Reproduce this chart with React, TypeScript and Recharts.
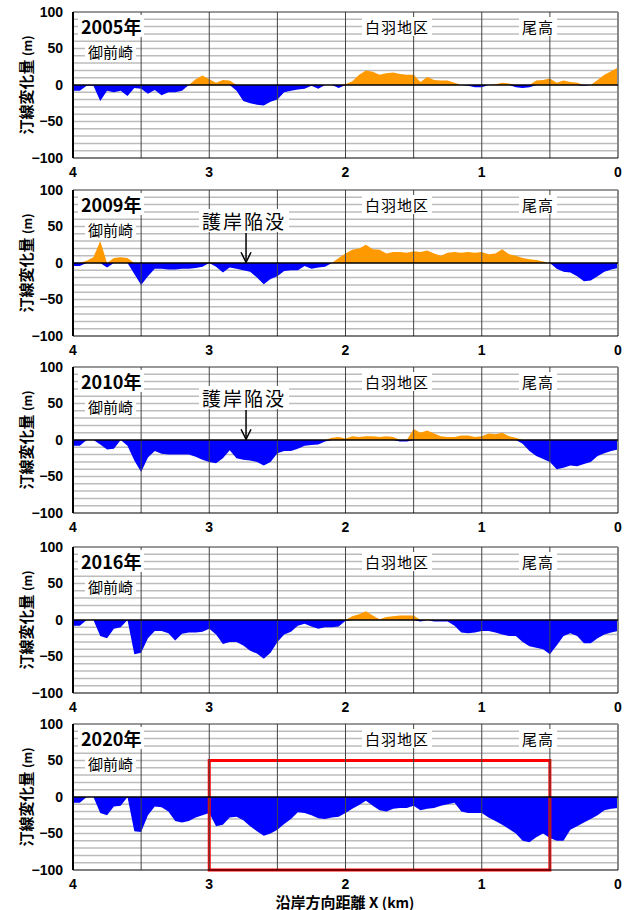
import React from "react";
import {
  AreaChart,
  Area,
  XAxis,
  YAxis,
  CartesianGrid,
  ReferenceLine,
  ReferenceArea,
} from "recharts";

// distance along the coast (km), left (4) to right (0)
const distanceKm = [
  4.0, 3.95, 3.9, 3.85, 3.8, 3.75, 3.7, 3.65, 3.6, 3.55,
  3.5, 3.45, 3.4, 3.35, 3.3, 3.25, 3.2, 3.15, 3.1, 3.05,
  3.0, 2.95, 2.9, 2.85, 2.8, 2.75, 2.7, 2.65, 2.6, 2.55,
  2.5, 2.45, 2.4, 2.35, 2.3, 2.25, 2.2, 2.15, 2.1, 2.05,
  2.0, 1.95, 1.9, 1.85, 1.8, 1.75, 1.7, 1.65, 1.6, 1.55,
  1.5, 1.45, 1.4, 1.35, 1.3, 1.25, 1.2, 1.15, 1.1, 1.05,
  1.0, 0.95, 0.9, 0.85, 0.8, 0.75, 0.7, 0.65, 0.6, 0.55,
  0.5, 0.45, 0.4, 0.35, 0.3, 0.25, 0.2, 0.15, 0.1, 0.05,
  0.0,
];

// shoreline change (m)
const change2005 = [
  -8, -8, -1, -1, -22, -8, -10, -8, -15, -4,
  -5, -12, -7, -14, -10, -10, -8, 0, 8, 13,
  8, 3, 7, 6, -8, -22, -25, -27, -28, -23,
  -20, -10, -8, -6, -5, -1, -5, 0, 0, -4,
  1, 5, 14, 20, 18, 14, 16, 17, 15, 14,
  14, 4, 11, 7, 6, 6, 3, 0, -1, -3,
  -3, 0, 1, 3, 2, -3, -4, -3, 6, 7,
  9, 3, 6, 4, 3, -1, 0, 7, 14, 19,
  24,
];

const change2009 = [
  -4, -4, 3, 8, 30, -6, 7, 8, 7, -15,
  -30, -18, -8, -8, -9, -9, -8, -8, -7, -5,
  1, -5, -13, -6, -8, -10, -12, -20, -29, -22,
  -18, -11, -10, -10, -4, -8, -6, -5, 0, 7,
  13, 18, 20, 25, 19, 18, 13, 15, 15, 14,
  16, 15, 17, 13, 10, 14, 15, 14, 15, 14,
  15, 12, 13, 19, 12, 10, 7, 5, 4, 2,
  0, -8, -12, -13, -18, -25, -24, -18, -12, -9,
  -7,
];

const change2010 = [
  -8, -8, 0, 0, -6, -13, -12, 0, -8, -28,
  -44, -24, -15, -19, -20, -20, -20, -20, -23, -27,
  -30, -32, -25, -14, -25, -27, -28, -30, -35, -30,
  -18, -15, -15, -12, -8, -7, -6, -2, 3, 4,
  2, 5, 4, 5, 5, 4, 5, 4, -2, -2,
  15, 10, 13, 9, 5, 4, 4, 6, 6, 4,
  5, 9, 8, 10, 5, 3, -5, -15, -22, -26,
  -30, -40, -38, -35, -36, -33, -30, -22, -18, -15,
  -13,
];

const change2016 = [
  -8, -8, 0, 0, -22, -25, -12, -10, 0, -47,
  -45, -25, -15, -15, -18, -28, -19, -17, -17, -16,
  -12, -20, -33, -30, -30, -35, -42, -46, -53, -45,
  -30, -20, -16, -8, -5, -9, -12, -10, -10, -9,
  -1, 5, 8, 12, 6, 1, 4, 5, 6, 6,
  6, -2, 1, -2, -2, -2, -8, -17, -18, -17,
  -15, -15, -17, -20, -22, -22, -30, -36, -38, -40,
  -47, -35, -22, -18, -22, -32, -32, -25, -20, -17,
  -15,
];

const change2020 = [
  -8, -8, 0, 0, -22, -25, -13, -12, 0, -47,
  -48, -25, -13, -14, -20, -33, -35, -33, -28, -25,
  -22, -40, -38, -28, -27, -32, -40, -47, -53, -50,
  -45, -37, -30, -21, -22, -25, -29, -30, -28, -27,
  -22, -16, -11, -5, -12, -18, -20, -16, -15, -15,
  -12, -18, -16, -15, -12, -10, -8, -20, -22, -22,
  -22, -28, -33, -38, -44, -50, -60, -62, -55, -50,
  -56, -60, -60, -45, -40, -35, -30, -25, -18, -16,
  -15,
];

const yearLabels = ["2005年", "2009年", "2010年", "2016年", "2020年"];
const seriesByYear = [change2005, change2009, change2010, change2016, change2020];
const xTicks = [0, 1, 2, 3, 4];
const yTicks = [-100, -50, 0, 50, 100];
const gridY = [-90, -80, -70, -60, -50, -40, -30, -20, -10, 10, 20, 30, 40, 50, 60, 70, 80, 90];
const gridX = [0.5, 1, 1.5, 2, 2.5, 3, 3.5];

const PANEL_TOPS = [12, 190, 367, 547, 724];
const PLOT_H = 146;
const TOP_PAD = 10;
const CHART_W = 629;
const BLUE = "#0000ff";
const ORANGE = "#ff9900";
const JP = "'Noto Sans CJK JP', 'Noto Sans', sans-serif";
const NUM = "'Liberation Sans', Arial, sans-serif";

const Arrow = (props: any) => {
  const { x1, y1, x2, y2 } = props;
  return (
    <g>
      <line x1={x1} y1={y1} x2={x2} y2={y2} stroke="#000" strokeWidth={1.5} />
      <path
        d={`M${x2 - 5},${y2 - 10} L${x2},${y2} L${x2 + 5},${y2 - 10}`}
        fill="none"
        stroke="#000"
        strokeWidth={1.5}
      />
    </g>
  );
};

function Panel({ idx }: { idx: number }) {
  const values = seriesByYear[idx];
  const data = distanceKm.map((d, i) => ({
    d,
    pos: Math.max(values[i], 0),
    neg: Math.min(values[i], 0),
  }));
  const showArrow = idx === 1 || idx === 2;
  const showBox = idx === 4;
  return (
    <AreaChart
      width={CHART_W}
      height={TOP_PAD + PLOT_H + 25}
      data={data}
      margin={{ top: TOP_PAD, right: 11, bottom: 0, left: 0 }}
    >
      <CartesianGrid
        vertical={false}
        horizontalValues={gridY}
        stroke="#bcbcbc"
        strokeWidth={1.5}
      />
      <XAxis
        dataKey="d"
        type="number"
        domain={[0, 4]}
        reversed
        ticks={xTicks}
        interval={0}
        height={25}
        tickSize={0}
        tickMargin={9}
        axisLine={{ stroke: "#000", strokeWidth: 1 }}
        tick={{ fill: "#000", fontSize: 14, fontWeight: 700, fontFamily: NUM }}
      />
      <YAxis
        type="number"
        domain={[-100, 100]}
        ticks={yTicks}
        interval={0}
        width={73}
        tickSize={0}
        tickMargin={10}
        axisLine={{ stroke: "#000", strokeWidth: 2 }}
        tickFormatter={(v: number) => (v < 0 ? "−" + Math.abs(v) : String(v))}
        tick={{ fill: "#000", fontSize: 14, fontWeight: 700, fontFamily: NUM }}
      />
      <Area
        dataKey="pos"
        type="linear"
        baseValue={0}
        stroke="none"
        fill={ORANGE}
        fillOpacity={1}
        dot={false}
        activeDot={false}
        isAnimationActive={false}
      />
      <Area
        dataKey="neg"
        type="linear"
        baseValue={0}
        stroke="none"
        fill={BLUE}
        fillOpacity={1}
        dot={false}
        activeDot={false}
        isAnimationActive={false}
      />
      {gridX.map((x) => (
        <ReferenceLine key={x} x={x} stroke="#444" strokeWidth={1} />
      ))}
      <ReferenceLine y={100} stroke="#333" strokeWidth={1} />
      <ReferenceLine x={0} stroke="#888" strokeWidth={2} />
      <ReferenceLine y={0} stroke="#000" strokeWidth={1.5} />
      {showArrow && (
        <ReferenceLine
          segment={[
            { x: 2.73, y: 41 },
            { x: 2.73, y: 1 },
          ]}
          shape={Arrow}
        />
      )}
      {showBox && (
        <ReferenceArea
          x1={3}
          x2={0.5}
          y1={-100}
          y2={50}
          fill="none"
          fillOpacity={0}
          stroke="#ff0000"
          strokeWidth={3}
          ifOverflow="visible"
        />
      )}
    </AreaChart>
  );
}

const boxStyle: React.CSSProperties = {
  position: "absolute",
  background: "#fff",
  color: "#000",
  fontFamily: JP,
  lineHeight: 1,
  whiteSpace: "nowrap",
  padding: "2px 3px",
};

export default function App() {
  return (
    <div
      style={{
        position: "absolute",
        left: 0,
        top: 0,
        width: CHART_W,
        height: 910,
        background: "#fff",
      }}
    >
      {PANEL_TOPS.map((top, i) => (
        <div key={i} style={{ position: "absolute", left: 0, top: top - TOP_PAD }}>
          <Panel idx={i} />
        </div>
      ))}
      {PANEL_TOPS.map((top, i) => (
        <React.Fragment key={"t" + i}>
          <div
            style={{
              ...boxStyle,
              left: 78,
              top: top + 3,
              fontSize: 18,
              fontWeight: 700,
            }}
          >
            {yearLabels[i]}
          </div>
          <div style={{ ...boxStyle, left: 85, top: top + 30, fontSize: 15 }}>
            御前崎
          </div>
          <div
            style={{
              ...boxStyle,
              left: 362,
              top: top + 5,
              fontSize: 15,
              letterSpacing: 1,
            }}
          >
            白羽地区
          </div>
          <div
            style={{
              ...boxStyle,
              left: 519,
              top: top + 5,
              fontSize: 15,
              letterSpacing: 1,
            }}
          >
            尾高
          </div>
          {(i === 1 || i === 2) && (
            <div
              style={{
                ...boxStyle,
                left: 199,
                top: top + 19,
                fontSize: 19,
                letterSpacing: 2,
              }}
            >
              護岸陥没
            </div>
          )}
          <div
            style={{
              position: "absolute",
              left: 25,
              top: top + PLOT_H / 2,
              transform: "translate(-50%, -50%) rotate(-90deg)",
              fontFamily: JP,
              fontWeight: 700,
              fontSize: 15,
              whiteSpace: "nowrap",
              lineHeight: 1,
            }}
          >
            汀線変化量 <span style={{ fontSize: 12 }}>(m)</span>
          </div>
        </React.Fragment>
      ))}
      <div
        style={{
          position: "absolute",
          left: 345,
          top: 901,
          transform: "translate(-50%, -50%)",
          fontFamily: JP,
          fontWeight: 700,
          fontSize: 15,
          whiteSpace: "nowrap",
          lineHeight: 1,
        }}
      >
        沿岸方向距離 X <span style={{ fontSize: 14 }}>(km)</span>
      </div>
    </div>
  );
}
